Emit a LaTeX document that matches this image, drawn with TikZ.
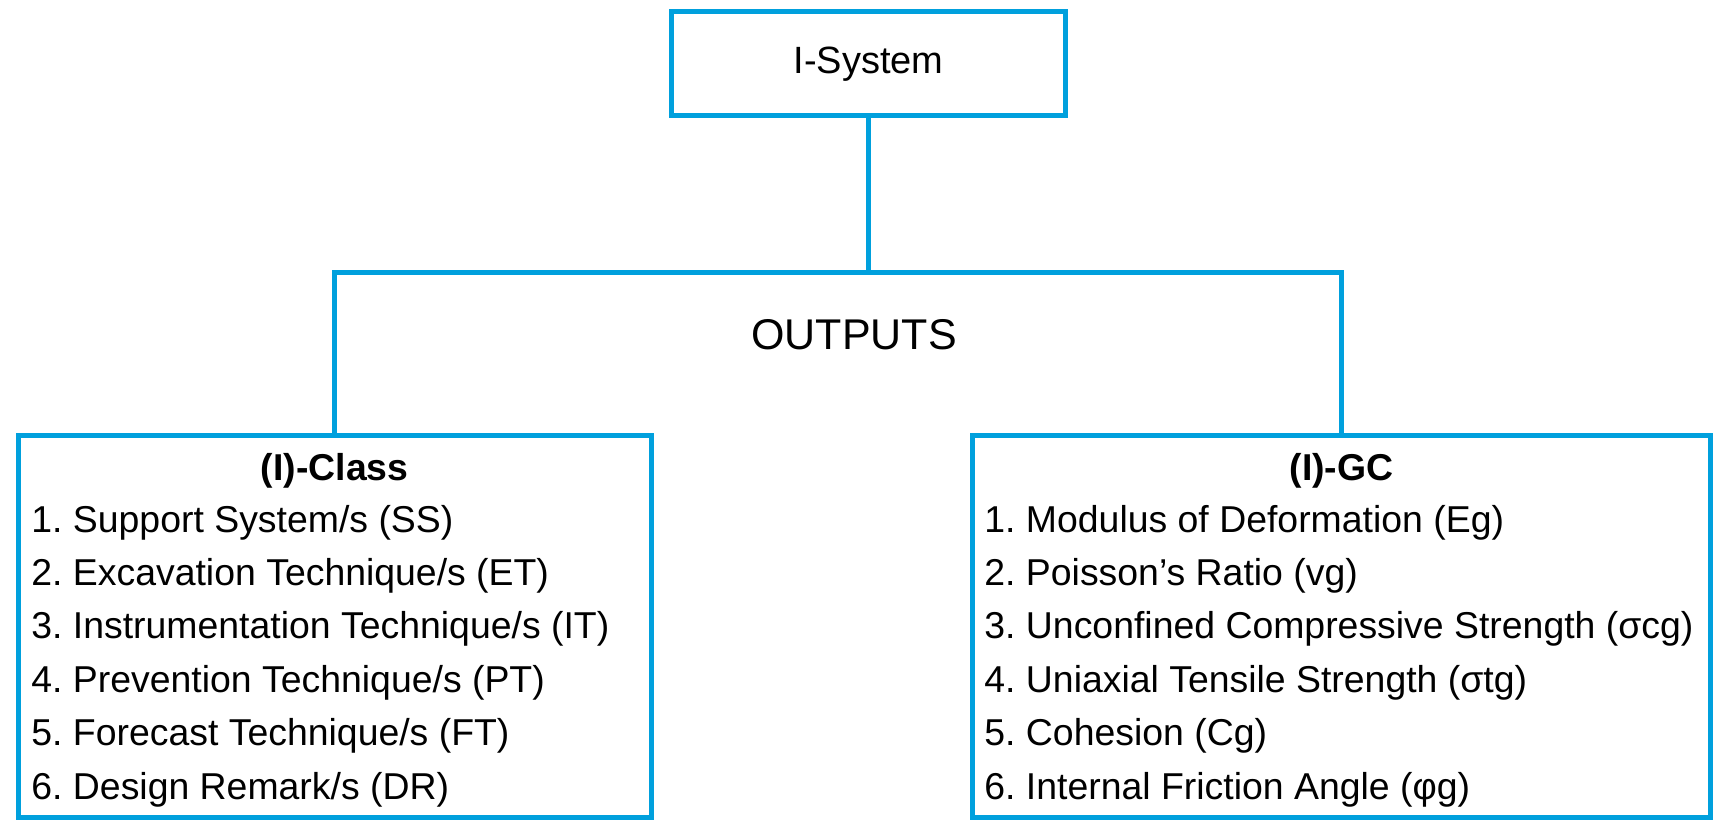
\documentclass[tikz,border=0pt]{standalone}
\usepackage{fontspec}
\setmainfont{Liberation Sans}
\usetikzlibrary{shadows}

\definecolor{lineblue}{RGB}{0,160,221}

\tikzstyle{outbox}=[shape=rectangle,draw=lineblue,line width=2.5pt,fill=white,
    drop shadow={shadow xshift=1.2pt,shadow yshift=-1.2pt,opacity=0.3}]
\tikzstyle{entry}=[anchor=base west,inner sep=0pt,font=\fontsize{18.7}{22}\selectfont]
\tikzstyle{head}=[anchor=base,inner sep=0pt,font=\fontsize{18.7}{22}\selectfont\bfseries]

\frenchspacing

\begin{document}
\begin{tikzpicture}[x=0.5pt,y=-0.5pt]
        \useasboundingbox (0,0) rectangle (1716,822);

        % boxes
        \node[outbox,minimum width=197pt,minimum height=52pt,
            font=\fontsize{19}{22}\selectfont] (sys) at (868.5,64) {I-System};
        \node[outbox,minimum width=316.25pt,minimum height=190.75pt] (cls) at (334.75,626.25) {};
        \node[outbox,minimum width=369pt,minimum height=190.75pt] (gc) at (1341.5,626.25) {};

        % connectors
        \coordinate (split) at (868.5,273);
        \draw [lineblue,line width=2.5pt] (sys.south) -- (split);
        \draw [lineblue,line width=2.5pt] (cls.north) |- (split) -| (gc.north);

        \node[font=\fontsize{21.5}{24}\selectfont] (out) at (854,334.5) {OUTPUTS};

        % class outputs
        \node[head] (clshead) at (334.75,481) {(I)-Class};
        \node[entry] (c1) at (31,532) {1. Support System/s (SS)};
        \node[entry] (c2) at (31,585.4) {2. Excavation Technique/s (ET)};
        \node[entry] (c3) at (31,638.8) {3. Instrumentation Technique/s (IT)};
        \node[entry] (c4) at (31,692.2) {4. Prevention Technique/s (PT)};
        \node[entry] (c5) at (31,745.6) {5. Forecast Technique/s (FT)};
        \node[entry] (c6) at (31,799) {6. Design Remark/s (DR)};

        % ground condition outputs
        \node[head] (gchead) at (1341.5,481) {(I)-GC};
        \node[entry] (g1) at (984,532) {1. Modulus of Deformation (Eg)};
        \node[entry] (g2) at (984,585.4) {2. Poisson’s Ratio (vg)};
        \node[entry] (g3) at (984,638.8) {3. Unconfined Compressive Strength (σcg)};
        \node[entry] (g4) at (984,692.2) {4. Uniaxial Tensile Strength (σtg)};
        \node[entry] (g5) at (984,745.6) {5. Cohesion (Cg)};
        \node[entry] (g6) at (984,799) {6. Internal Friction Angle (φg)};
    \end{tikzpicture}
\end{document}
